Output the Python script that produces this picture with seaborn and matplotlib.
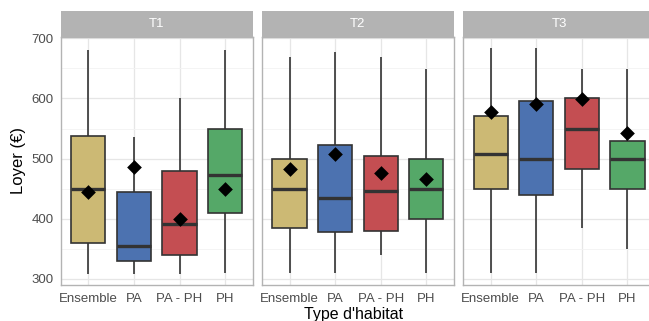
import numpy as np
import pandas as pd
import matplotlib
matplotlib.use('Agg')
import matplotlib.pyplot as plt
from matplotlib.patches import Rectangle
import seaborn as sns

# ---- values (T1, T2, T3 x 4 habitat types) ----
types = ['T1', 'T2', 'T3']
habitats = ['Ensemble', 'PA', 'PA - PH', 'PH']
colors = ['#CCB974', '#4C72B0', '#C44E52', '#55A868']

whisk_low = [308, 308, 308, 310,   310, 310, 339, 310,   310, 310, 384, 350]
q1        = [360, 330, 340, 410,   385, 377, 380, 400,   449, 440, 482, 449]
median    = [450, 354, 391, 472,   450, 434, 446, 450,   508, 500, 549, 500]
q3        = [538, 444, 480, 550,   500, 522, 505, 499,   571, 596, 600, 529]
whisk_hi  = [680, 536, 600, 680,   669, 677, 669, 649,   684, 684, 649, 649]
mean      = [444, 486, 399, 450,   483, 507, 476, 466,   577, 590, 599, 542]

# Build a long table: five values per box give exactly the five-number summary
rows, mean_rows = [], []
i = 0
for t in types:
    for h in habitats:
        for v in (whisk_low[i], q1[i], median[i], q3[i], whisk_hi[i]):
            rows.append({'type': t, 'habitat': h, 'loyer': v})
        mean_rows.append({'type': t, 'habitat': h, 'mean': mean[i]})
        i += 1
df = pd.DataFrame(rows)
df_mean = pd.DataFrame(mean_rows)

sns.set_style('white')
plt.rcParams['font.family'] = ['Liberation Sans', 'DejaVu Sans']

fig, axes = plt.subplots(1, 3, figsize=(6.49, 3.21), dpi=100, sharey=True)
fig.subplots_adjust(left=0.094, right=1.009, top=0.886, bottom=0.112, wspace=0.05)

edge = '#333333'
for ax, t in zip(axes, types):
    sub = df[df['type'] == t]
    sns.boxplot(data=sub, x='habitat', y='loyer', hue='habitat', order=habitats,
                hue_order=habitats, palette=colors, legend=False, ax=ax,
                whis=(0, 100), width=0.75, showcaps=False, linecolor=edge,
                linewidth=1.2, medianprops={'linewidth': 2.4, 'color': edge},
                saturation=1)
    sns.stripplot(data=df_mean[df_mean['type'] == t], x='habitat', y='mean',
                  order=habitats, jitter=False, marker='D', color='black',
                  size=7.5, linewidth=0, ax=ax, zorder=5)

    ax.set_xlim(-0.6, 3.6)
    ax.set_ylim(289.5, 703)
    ax.set_yticks([300, 400, 500, 600, 700])
    ax.set_yticks([350, 450, 550, 650], minor=True)
    ax.set_axisbelow(True)
    ax.grid(True, which='major', axis='both', color='#e6e6e6', lw=0.9)
    ax.grid(True, which='minor', axis='y', color='#f2f2f2', lw=0.6)
    for s in ax.spines.values():
        s.set_visible(True)
        s.set_color('#b3b3b3')
        s.set_linewidth(1.0)
    ax.tick_params(axis='both', which='major', length=3.5, width=0.8,
                   color='#b3b3b3', labelcolor='#4d4d4d', labelsize=9.5, pad=2)
    ax.tick_params(axis='y', which='minor', length=0)
    ax.set_xlabel('')
    ax.set_ylabel('')

    # facet strip
    ax.add_patch(Rectangle((0, 1.0), 1, 0.102, transform=ax.transAxes,
                           facecolor='#b3b3b3', edgecolor='none', clip_on=False))
    ax.text(0.5, 1.051, t, transform=ax.transAxes, ha='center', va='center',
            color='white', fontsize=9.5)

for ax in axes[1:]:
    ax.tick_params(axis='y', which='major', length=0)

axes[0].set_ylabel('Loyer (€)', fontsize=12, color='black', labelpad=4)
fig.text(354 / 649, 1 - 319.5 / 321, "Type d'habitat", ha='center', va='baseline',
         fontsize=11.5, color='black')

fig.savefig('out.png', dpi=100)
